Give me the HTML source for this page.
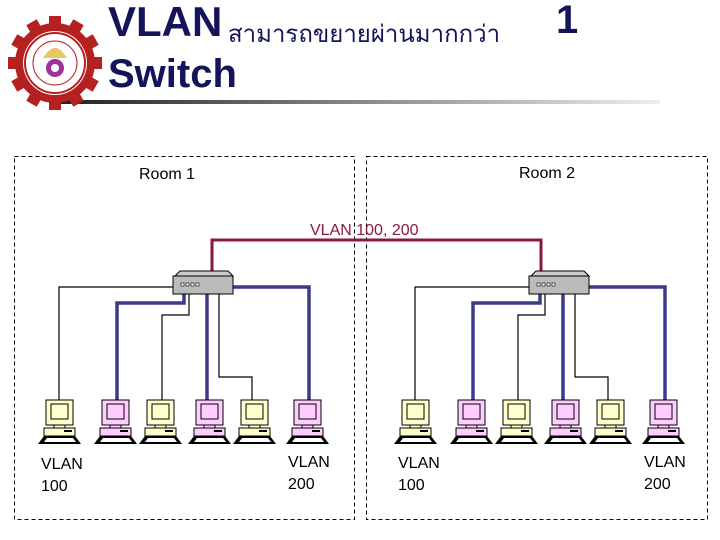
<!DOCTYPE html>
<html><head><meta charset="utf-8"><style>
body{margin:0;width:720px;height:540px;background:#fff;overflow:hidden;position:relative;font-family:"Liberation Sans",sans-serif}
.t{position:absolute;color:#14145a;font-weight:bold}
</style></head><body>
<div class="t" style="left:108px;top:-2px;font-size:42px">VLAN</div>
<div class="t" style="left:228px;top:14px;font-size:24px;font-weight:normal;font-family:'Liberation Serif','Noto Serif CJK SC',serif">สามารถขยายผ่านมากกว่า</div>
<div class="t" style="left:556px;top:-2px;font-size:40px">1</div>
<div class="t" style="left:108px;top:52px;font-size:40px">Switch</div>
<svg width="720" height="540" style="position:absolute;left:0;top:0">
<defs>
<linearGradient id="g" x1="0" x2="1"><stop offset="0" stop-color="#222"/><stop offset="0.5" stop-color="#888"/><stop offset="1" stop-color="#eee"/></linearGradient>
<g id="pc">
<rect x="0" y="0" width="27" height="25" stroke="#000" stroke-width="1"/>
<rect x="5" y="4" width="17" height="15" fill="none" stroke="#000"/>
<rect x="8" y="25" width="11" height="3" stroke="#000"/>
<rect x="-2" y="28" width="31" height="8" stroke="#000"/>
<rect x="18" y="30" width="8" height="2" fill="#000"/>
<path d="M-2 36 H29 L35 44 H-8 Z" fill="#000"/>
<path d="M1 38 H27 L30 42 H-2 Z" fill="#fff"/>
</g>
<g id="sw">
<path d="M175 276 L180 271 H228 L233 276 Z" fill="#ccc" stroke="#000"/>
<rect x="173" y="276" width="60" height="18" fill="#bbb" stroke="#000"/>
<rect x="181" y="283" width="3" height="3" fill="#fff" stroke="#000" stroke-width=".6"/>
<rect x="186" y="283" width="3" height="3" fill="#fff" stroke="#000" stroke-width=".6"/>
<rect x="191" y="283" width="3" height="3" fill="#fff" stroke="#000" stroke-width=".6"/>
<rect x="196" y="283" width="3" height="3" fill="#fff" stroke="#000" stroke-width=".6"/>
</g>
<g id="grp">
<g fill="none" stroke="#000" stroke-width="1.2">
<path d="M173 287 H59 V400"/><path d="M189 294 V315 H162 V400"/><path d="M219 294 V377 H252 V400"/>
</g>
<g fill="none" stroke="#3a3a8a" stroke-width="3.5">
<path d="M184 294 V303 H117 V400"/><path d="M207 294 V400"/><path d="M233 287 H309 V400"/>
</g>
<use href="#sw"/>
<use href="#pc" x="46" y="400" fill="#ffffcc"/>
<use href="#pc" x="102" y="400" fill="#ffccff"/>
<use href="#pc" x="147" y="400" fill="#ffffcc"/>
<use href="#pc" x="196" y="400" fill="#ffccff"/>
<use href="#pc" x="241" y="400" fill="#ffffcc"/>
<use href="#pc" x="294" y="400" fill="#ffccff"/>
</g>
</defs>
<rect x="60" y="100" width="600" height="4" fill="url(#g)"/>
<g transform="translate(55,63)">
<circle r="40" fill="#b52020"/>
<g fill="#b52020"><rect x="-6" y="-47" width="12" height="94"/><rect x="-47" y="-6" width="94" height="12"/>
<rect x="-6" y="-47" width="12" height="94" transform="rotate(30)"/><rect x="-6" y="-47" width="12" height="94" transform="rotate(60)"/><rect x="-6" y="-47" width="12" height="94" transform="rotate(120)"/><rect x="-6" y="-47" width="12" height="94" transform="rotate(150)"/></g>
<circle r="32" fill="#fff"/><circle r="30" fill="none" stroke="#b52020" stroke-width="2"/>
<circle r="22" fill="#fff" stroke="#b52020" stroke-width="1"/>
<path d="M-12 -5 Q0 -25 12 -5 Z" fill="#e8c860"/>
<circle cy="5" r="9" fill="#a0309a"/><circle cy="5" r="4" fill="#fff"/>
</g>
<rect x="14.5" y="156.5" width="340" height="363" fill="none" stroke="#000" stroke-dasharray="4,3"/>
<rect x="366.5" y="156.5" width="341" height="363" fill="none" stroke="#000" stroke-dasharray="4,3"/>
<path d="M212 276 V240 H541 V276" fill="none" stroke="#8b1a3a" stroke-width="3"/>
<use href="#grp"/>
<use href="#grp" x="356"/>
<g font-family="Liberation Sans, sans-serif" font-size="16">
<text x="139" y="179">Room 1</text>
<text x="519" y="178">Room 2</text>
<text x="310" y="235" fill="#8b1a3a">VLAN 100, 200</text>
<text x="41" y="469">VLAN</text><text x="41" y="491">100</text>
<text x="288" y="467">VLAN</text><text x="288" y="489">200</text>
<text x="398" y="468">VLAN</text><text x="398" y="490">100</text>
<text x="644" y="467">VLAN</text><text x="644" y="489">200</text>
</g>
</svg>
</body></html>
